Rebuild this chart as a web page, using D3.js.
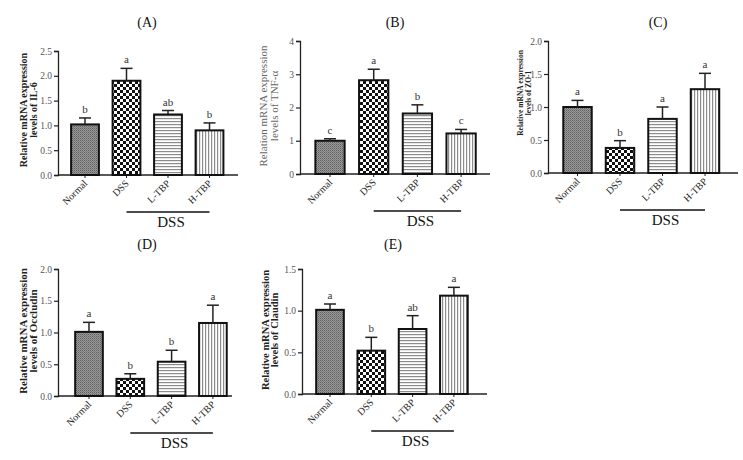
<!DOCTYPE html>
<html>
<head>
<meta charset="utf-8">
<script src="https://cdn.jsdelivr.net/npm/d3@7"></script>
<style>
html,body{margin:0;padding:0;background:#fff;}
svg{display:block;}
</style>
</head>
<body>
<svg id="chart" width="743" height="460"></svg>
<script>
// ---------------- DATA ----------------
const categories = ["Normal", "DSS", "L-TBP", "H-TBP"];
const groupLabel = "DSS";

const panelIds = ["(A)", "(B)", "(C)", "(D)", "(E)"];

const il6Means = [1.02, 1.90, 1.22, 0.90];
const il6Errors = [0.13, 0.25, 0.08, 0.15];
const il6Letters = ["b", "a", "ab", "b"];
const il6Ticks = [0, 0.5, 1.0, 1.5, 2.0, 2.5];
const il6Label = ["Relative mRNA expression", "levels of IL-6"];

const tnfMeans = [1.00, 2.82, 1.82, 1.22];
const tnfErrors = [0.06, 0.33, 0.26, 0.12];
const tnfLetters = ["c", "a", "b", "c"];
const tnfTicks = [0, 1, 2, 3, 4];
const tnfLabel = ["Relation mRNA expression", "levels of TNF-α"];

const zo1Means = [1.00, 0.38, 0.82, 1.27];
const zo1Errors = [0.10, 0.11, 0.18, 0.24];
const zo1Letters = ["a", "b", "a", "a"];
const zo1Ticks = [0, 0.5, 1.0, 1.5, 2.0];
const zo1Label = ["Relative mRNA expression", "levels of ZO-1"];

const occMeans = [1.01, 0.27, 0.54, 1.15];
const occErrors = [0.15, 0.08, 0.18, 0.28];
const occLetters = ["a", "b", "b", "a"];
const occTicks = [0, 0.5, 1.0, 1.5, 2.0];
const occLabel = ["Relative mRNA expression", "levels of Occludin"];

const clauMeans = [1.01, 0.52, 0.78, 1.18];
const clauErrors = [0.07, 0.16, 0.16, 0.10];
const clauLetters = ["a", "b", "ab", "a"];
const clauTicks = [0, 0.5, 1.0, 1.5];
const clauLabel = ["Relative mRNA expression", "levels of Claudin"];

// ---------------- LAYOUT ----------------
const panels = [
  {id: panelIds[0], means: il6Means, errors: il6Errors, letters: il6Letters, ticks: il6Ticks, fmt: ".1f", label: il6Label,
   ax: 58, axEnd: 238, yTop: 51, y0: 175, c0: 85, step: 41.5, titleX: 147, titleY: 27,
   lab: {x1: 23, dx: 10.5, cy: 110, size: 10, weight: "bold", color: "#222"}},
  {id: panelIds[1], means: tnfMeans, errors: tnfErrors, letters: tnfLetters, ticks: tnfTicks, fmt: "d", label: tnfLabel,
   ax: 300, axEnd: 490, yTop: 41, y0: 174, c0: 330, step: 43.7, titleX: 395, titleY: 27,
   lab: {x1: 263, dx: 11, cy: 106, size: 11, weight: "normal", color: "#666"}},
  {id: panelIds[2], means: zo1Means, errors: zo1Errors, letters: zo1Letters, ticks: zo1Ticks, fmt: ".1f", label: zo1Label,
   ax: 548, axEnd: 738, yTop: 41, y0: 173, c0: 577.5, step: 42.5, titleX: 658, titleY: 27,
   lab: {x1: 520, dx: 8, cy: 93, size: 7.5, weight: "bold", color: "#222"}},
  {id: panelIds[3], means: occMeans, errors: occErrors, letters: occLetters, ticks: occTicks, fmt: ".1f", label: occLabel,
   ax: 58, axEnd: 232, yTop: 269, y0: 396, c0: 89, step: 41.3, titleX: 147, titleY: 249,
   lab: {x1: 23, dx: 10.5, cy: 331, size: 11, weight: "bold", color: "#222"}},
  {id: panelIds[4], means: clauMeans, errors: clauErrors, letters: clauLetters, ticks: clauTicks, fmt: ".1f", label: clauLabel,
   ax: 302, axEnd: 487, yTop: 269, y0: 394, c0: 330, step: 41.3, titleX: 393, titleY: 249,
   lab: {x1: 265, dx: 9.5, cy: 330, size: 10.5, weight: "bold", color: "#222"}}
];

const serif = "'Liberation Serif','Times New Roman',serif";
const svg = d3.select("#chart");
svg.append("rect").attr("width", 743).attr("height", 460).attr("fill", "#fff");

// ---------------- PATTERNS ----------------
const defs = svg.append("defs");
// Normal: fine grey dither
const pN = defs.append("pattern").attr("id", "pNormal").attr("patternUnits", "userSpaceOnUse").attr("width", 2).attr("height", 2);
pN.append("rect").attr("width", 2).attr("height", 2).attr("fill", "#9a9a9a");
pN.append("rect").attr("x", 0).attr("y", 0).attr("width", 1).attr("height", 1).attr("fill", "#5e5e5e");
pN.append("rect").attr("x", 1).attr("y", 1).attr("width", 1).attr("height", 1).attr("fill", "#7a7a7a");
// DSS: black/white checkerboard
const pD = defs.append("pattern").attr("id", "pDSS").attr("patternUnits", "userSpaceOnUse").attr("width", 6).attr("height", 6);
pD.append("rect").attr("width", 6).attr("height", 6).attr("fill", "#fff");
pD.append("rect").attr("x", 0).attr("y", 0).attr("width", 3).attr("height", 3).attr("fill", "#111");
pD.append("rect").attr("x", 3).attr("y", 3).attr("width", 3).attr("height", 3).attr("fill", "#111");
// L-TBP: horizontal lines
const pL = defs.append("pattern").attr("id", "pLTBP").attr("patternUnits", "userSpaceOnUse").attr("width", 3).attr("height", 3);
pL.append("rect").attr("width", 3).attr("height", 3).attr("fill", "#fff");
pL.append("rect").attr("x", 0).attr("y", 1).attr("width", 3).attr("height", 1.2).attr("fill", "#8c8c8c");
// H-TBP: vertical lines
const pH = defs.append("pattern").attr("id", "pHTBP").attr("patternUnits", "userSpaceOnUse").attr("width", 3).attr("height", 3);
pH.append("rect").attr("width", 3).attr("height", 3).attr("fill", "#fff");
pH.append("rect").attr("x", 1).attr("y", 0).attr("width", 1.2).attr("height", 3).attr("fill", "#8c8c8c");
const fills = ["url(#pNormal)", "url(#pDSS)", "url(#pLTBP)", "url(#pHTBP)"];

// ---------------- DRAW ----------------
panels.forEach(p => {
  const g = svg.append("g");
  const x = d3.scaleBand().domain(categories)
    .range([p.c0 - p.step / 2, p.c0 + 3.5 * p.step])
    .paddingInner(0.33).paddingOuter(0.165);
  const yMax = p.ticks[p.ticks.length - 1];
  const y = d3.scaleLinear().domain([0, yMax]).range([p.y0, p.yTop]);

  // title
  g.append("text").attr("x", p.titleX).attr("y", p.titleY).attr("text-anchor", "middle")
    .attr("font-family", serif).attr("font-size", 14).attr("fill", "#111").text(p.id);

  // y axis
  const yAxis = d3.axisLeft(y).tickValues(p.ticks).tickSize(4).tickPadding(2)
    .tickFormat(d3.format(p.fmt));
  const ya = g.append("g").attr("transform", `translate(${p.ax},0)`).call(yAxis);
  ya.select(".domain").attr("stroke", "#222").attr("stroke-width", 1.3);
  ya.selectAll(".tick line").attr("stroke", "#222").attr("stroke-width", 1.2);
  ya.selectAll(".tick text").attr("font-family", serif).attr("font-size", 9.5).attr("fill", "#555");

  // x axis line
  g.append("line").attr("x1", p.ax).attr("x2", p.axEnd).attr("y1", p.y0).attr("y2", p.y0)
    .attr("stroke", "#222").attr("stroke-width", 1.3);
  const xAxis = d3.axisBottom(x).tickSize(3).tickSizeOuter(0).tickFormat(() => "");
  const xa = g.append("g").attr("transform", `translate(0,${p.y0})`).call(xAxis);
  xa.select(".domain").remove();
  xa.selectAll(".tick line").attr("stroke", "#222").attr("stroke-width", 1);

  // rotated category labels
  categories.forEach(c => {
    const cx = x(c) + x.bandwidth() / 2 + 3;
    g.append("text").attr("transform", `translate(${cx},${p.y0 + 9}) rotate(-45)`)
      .attr("text-anchor", "end").attr("font-family", serif).attr("font-size", 10)
      .attr("fill", "#222").text(c);
  });

  // bars
  g.selectAll("rect.bar").data(p.means).enter().append("rect").attr("class", "bar")
    .attr("x", (d, i) => x(categories[i]))
    .attr("width", x.bandwidth())
    .attr("y", d => y(d))
    .attr("height", d => p.y0 - y(d))
    .attr("fill", (d, i) => fills[i])
    .attr("stroke", "#111").attr("stroke-width", 2);

  // error bars (upper)
  p.means.forEach((m, i) => {
    const cx = x(categories[i]) + x.bandwidth() / 2;
    const top = y(m + p.errors[i]);
    g.append("line").attr("x1", cx).attr("x2", cx).attr("y1", y(m)).attr("y2", top)
      .attr("stroke", "#222").attr("stroke-width", 1.5);
    g.append("line").attr("x1", cx - 6).attr("x2", cx + 6).attr("y1", top).attr("y2", top)
      .attr("stroke", "#222").attr("stroke-width", 1.5);
    g.append("text").attr("x", cx).attr("y", top - 5).attr("text-anchor", "middle")
      .attr("font-family", serif).attr("font-size", 11).attr("fill", "#333").text(p.letters[i]);
  });

  // DSS group line
  const gx1 = x(categories[1]) + x.bandwidth() / 2;
  const gx2 = x(categories[3]) + x.bandwidth() / 2;
  g.append("line").attr("x1", gx1).attr("x2", gx2).attr("y1", p.y0 + 37).attr("y2", p.y0 + 37)
    .attr("stroke", "#111").attr("stroke-width", 1.5);
  g.append("text").attr("x", (gx1 + gx2) / 2 + 3).attr("y", p.y0 + 52).attr("text-anchor", "middle")
    .attr("font-family", serif).attr("font-size", 15).attr("fill", "#111").text(groupLabel);

  // y label
  p.label.forEach((t, k) => {
    g.append("text").attr("transform", `translate(${p.lab.x1 + k * p.lab.dx + p.lab.size * 0.35},${p.lab.cy}) rotate(-90)`)
      .attr("text-anchor", "middle").attr("font-family", serif).attr("font-size", p.lab.size)
      .attr("font-weight", p.lab.weight).attr("fill", p.lab.color).text(t);
  });
});
</script>
</body>
</html>
